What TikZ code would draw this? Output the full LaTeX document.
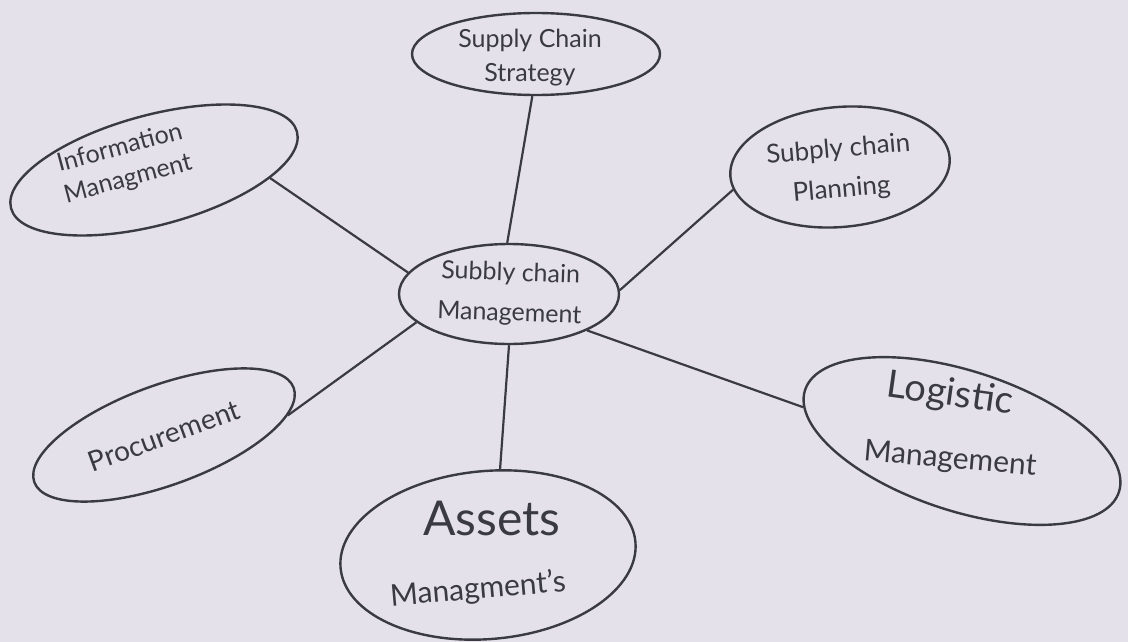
\documentclass[tikz,border=0pt]{standalone}
\usepackage{fontspec}
\setmainfont{Lato}
\usetikzlibrary{shapes.geometric}
\definecolor{paper}{HTML}{E4E1EA}
\definecolor{ink}{HTML}{3A3A42}
\tikzset{
  bubble/.style={draw=ink, line width=2.4pt, ellipse, inner sep=0pt},
  link/.style={draw=ink, line width=2.2pt},
  txt/.style={text=ink, align=center, inner sep=0pt}
}
\begin{document}
\begin{tikzpicture}[x=1pt,y=-1pt]
\fill[paper] (0,0) rectangle (1128,642);
\useasboundingbox (0,0) rectangle (1128,642);
% bubbles
\node[bubble, minimum width=248pt, minimum height=82pt] (strat) at (536,54) {};
\node[bubble, minimum width=296pt, minimum height=110pt, rotate=15] (info) at (154,170) {};
\node[bubble, minimum width=220pt, minimum height=120pt, rotate=5] (plan) at (840,167) {};
\node[bubble, minimum width=220pt, minimum height=100pt] (cen) at (509,294) {};
\node[bubble, minimum width=276pt, minimum height=100pt, rotate=20] (proc) at (164,435) {};
\node[bubble, minimum width=296pt, minimum height=168pt, rotate=5] (asset) at (488,555) {};
\node[bubble, minimum width=330pt, minimum height=140pt, rotate=-18] (logi) at (962,441) {};
% texts
\node[txt, font=\fontsize{25}{34}\selectfont] (strat-t) at (530,58) {Supply Chain\\Strategy};
\node[txt, font=\fontsize{25}{32}\selectfont, rotate=15] (info-t) at (124,164) {Information\\Managment};
\node[txt, font=\fontsize{26}{40}\selectfont, rotate=5] (plan-t) at (840,170) {Subply chain\\Planning};
\node[txt, font=\fontsize{25}{40}\selectfont, rotate=-2] (cen-t) at (510,294) {Subbly chain\\Management};
\node[txt, font=\fontsize{28}{34}\selectfont, rotate=20] (proc-t) at (164,436) {Procurement};
\node[txt, font=\fontsize{48}{48}\selectfont] (asset-a) at (492,518) {Assets};
\node[txt, font=\fontsize{30}{30}\selectfont, rotate=5] (asset-b) at (478,590) {Managment's};
\node[txt, font=\fontsize{38}{38}\selectfont, rotate=-8] (logi-a) at (950,395) {Logistic};
\node[txt, font=\fontsize{30}{30}\selectfont, rotate=-5] (logi-b) at (950,460) {Management};
% connectors
\draw[link] (strat.265) -- (cen.92);
\draw[link] (info.-19) -- (cen.168);
\draw[link] (plan.187) -- (cen.2);
\draw[link] (proc.-11) -- (cen.197);
\draw[link] (asset.77) -- (cen.270);
\draw[link] (logi.186) -- (cen.-25);
\end{tikzpicture}
\end{document}
